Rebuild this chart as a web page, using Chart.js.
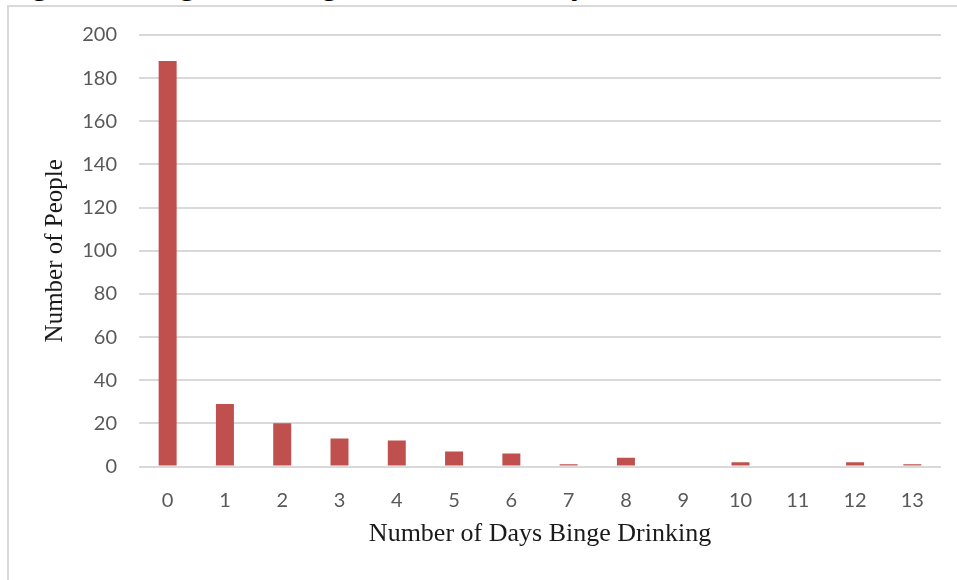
<!DOCTYPE html>
<html>
<head>
<meta charset="utf-8">
<script src="https://cdn.jsdelivr.net/npm/chart.js@4/dist/chart.umd.min.js"></script>
<style>
  html, body { margin: 0; padding: 0; background: #fff; overflow: hidden; }
  #wrap { position: relative; width: 957px; height: 580px; overflow: hidden; background: #fff; }
  #caption {
    position: absolute; left: 4px; top: -33px;
    font: 33px/33px "Liberation Serif", "Times New Roman", serif;
    color: #000; white-space: nowrap;
  }
  #frame {
    position: absolute; left: 7px; top: 5px; right: -4px; bottom: -4px;
    border-top: 2px solid #d9d9d9; border-left: 2px solid #d9d9d9;
  }
  canvas { position: absolute; left: 0; top: 0; }
</style>
</head>
<body>
<div id="wrap">
  <div id="caption">Figure 3. Binge Drinking in the Past 30 Days</div>
  <div id="frame"></div>
  <canvas id="chart" width="957" height="580"></canvas>
</div>
<script>
// Days of binge drinking (x categories) and how many respondents reported each
const dayLabels = ['0', '1', '2', '3', '4', '5', '6', '7', '8', '9', '10', '11', '12', '13'];
const peopleCounts = [188, 29, 20, 13, 12, 7, 6, 1, 4, 0, 2, 0, 2, 1];

// Value axis ticks
const yTickValues = [0, 20, 40, 60, 80, 100, 120, 140, 160, 180, 200];

const xTitle = 'Number of Days Binge Drinking';
const yTitle = 'Number of People';

const tickFont = { family: 'Lato', size: 20 };

new Chart(document.getElementById('chart'), {
  type: 'bar',
  data: {
    labels: dayLabels,
    datasets: [{
      data: peopleCounts,
      backgroundColor: '#C0504D',
      borderWidth: 0,
      barPercentage: 0.314,
      categoryPercentage: 1
    }]
  },
  options: {
    responsive: false,
    animation: false,
    layout: { padding: { top: 35, right: 16, left: 0, bottom: 0 } },
    plugins: {
      legend: { display: false },
      tooltip: { enabled: false }
    },
    scales: {
      x: {
        grid: { display: false, drawTicks: false },
        border: { display: false },
        ticks: { color: '#595959', font: tickFont, padding: 22, maxRotation: 0 },
        title: {
          display: true,
          text: xTitle,
          color: '#1a1a1a',
          font: { family: 'Liberation Serif', size: 26 },
          padding: { top: 0, bottom: 30 }
        },
        afterFit(scale) { scale.height = 113.5; }
      },
      y: {
        min: yTickValues[0],
        max: yTickValues[yTickValues.length - 1],
        afterBuildTicks(scale) { scale.ticks = yTickValues.map(v => ({ value: v })); },
        ticks: { color: '#595959', font: tickFont, padding: 22 },
        grid: { color: '#d9d9d9', lineWidth: 2, drawTicks: false },
        border: { display: false },
        title: {
          display: true,
          text: yTitle,
          color: '#1a1a1a',
          font: { family: 'Liberation Serif', size: 25 },
          padding: { top: 40, bottom: 0 }
        },
        afterFit(scale) { scale.width = 139; }
      }
    }
  }
});
</script>
</body>
</html>
